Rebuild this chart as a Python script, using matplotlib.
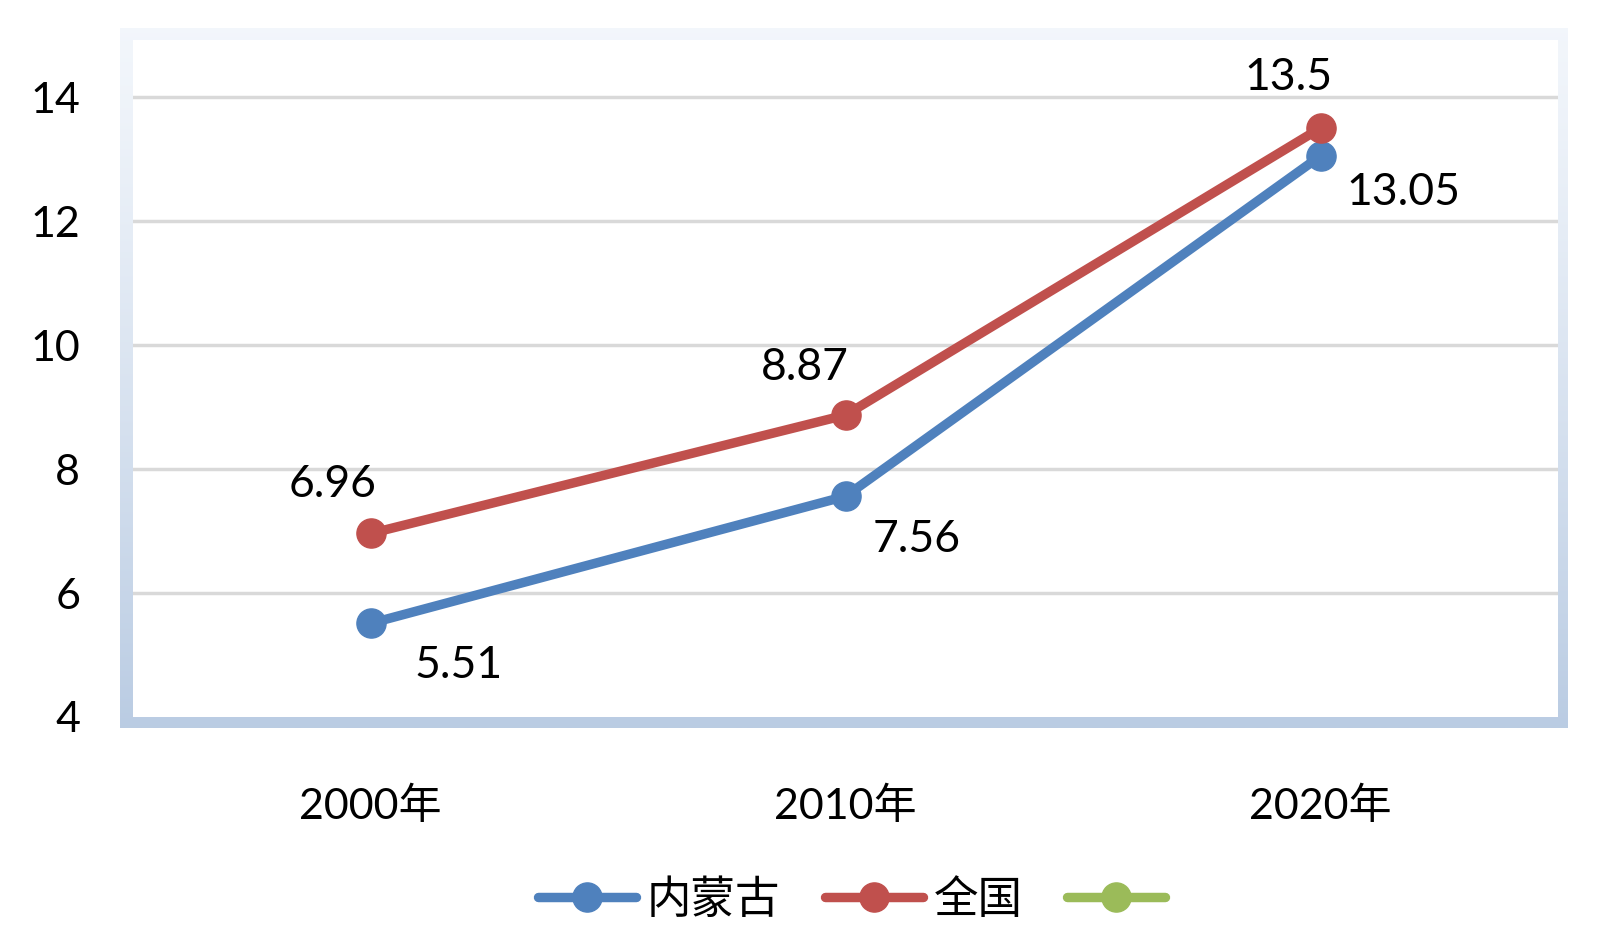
import numpy as np
import matplotlib
matplotlib.use("Agg")
import matplotlib.pyplot as plt

years = ["2000年", "2010年", "2020年"]
inner_mongolia = [5.51, 7.56, 13.05]
national = [6.96, 8.87, 13.5]
series_names = ["内蒙古", "全国", ""]
y_ticks = [4, 6, 8, 10, 12, 14]

BLUE = "#4f81bd"
RED = "#c0504d"
GREEN = "#9bbb59"
FONTS = ["Lato", "Noto Sans CJK SC", "DejaVu Sans"]

plt.rcParams["font.family"] = FONTS

W, H = 1600, 934
fig = plt.figure(figsize=(W / 100, H / 100), dpi=100)


def frac(x0, y0, x1, y1):
    # pixel box (top-left origin) -> figure fraction rect
    return [x0 / W, 1 - y1 / H, (x1 - x0) / W, (y1 - y0) / H]


# gradient frame behind the plot area
bg = fig.add_axes(frac(120, 28, 1568, 728))
grad = np.linspace(0, 1, 256).reshape(-1, 1)
top = np.array([0.95, 0.965, 0.985])
bot = np.array([0.73, 0.80, 0.89])
img = top + (bot - top) * grad[:, :, None] ** 1.2
bg.imshow(img.reshape(256, 1, 3), aspect="auto", extent=[0, 1, 0, 1])
bg.set_axis_off()

ax = fig.add_axes(frac(133, 40, 1558, 717))
ax.set_facecolor("white")
x = np.arange(len(years))

for yv in y_ticks[1:]:
    ax.axhline(yv, color="#d9d9d9", lw=2.5, zorder=1)

style = dict(lw=6.8, marker="o", ms=21, solid_capstyle="round", zorder=3)
l1, = ax.plot(x, inner_mongolia, color=BLUE, **style)
l2, = ax.plot(x, national, color=RED, **style)
l3, = ax.plot([], [], color=GREEN, **style)

blue_offsets = [(88, -42), (71, -43), (83, -37)]
red_offsets = [(-38, 49), (-41, 48), (-32, 51)]
for i in range(len(years)):
    ax.annotate(f"{inner_mongolia[i]:g}", (x[i], inner_mongolia[i]),
                xytext=blue_offsets[i], textcoords="offset pixels",
                ha="center", va="center", fontsize=32)
    ax.annotate(f"{national[i]:g}", (x[i], national[i]),
                xytext=red_offsets[i], textcoords="offset pixels",
                ha="center", va="center", fontsize=32)

ax.set_xlim(-0.5, 2.5)
ax.set_ylim(4, 14.92)
ax.set_xticks(x)
ax.set_xticklabels(years)
ax.set_yticks(y_ticks)
ax.tick_params(axis="y", length=0, pad=38, labelsize=31)
ax.tick_params(axis="x", length=0, pad=50, labelsize=31)
for s in ax.spines.values():
    s.set_visible(False)

fig.legend([l1, l2, l3], series_names, loc="center", bbox_to_anchor=(857 / W, 1 - 900 / H),
           ncol=3, frameon=False, handlelength=2.2, handletextpad=0.25,
           columnspacing=1.0, prop={"family": ["Noto Sans CJK SC"], "size": 32})

fig.savefig("out.png", dpi=100)
